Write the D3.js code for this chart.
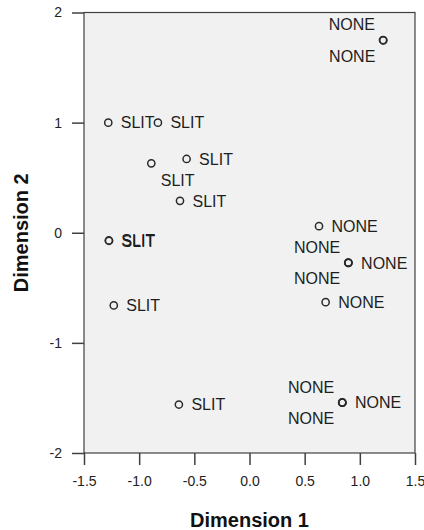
<!DOCTYPE html>
<html>
<head>
<meta charset="utf-8">
<script src="https://cdn.jsdelivr.net/npm/d3@7"></script>
<style>
  html, body { margin: 0; padding: 0; background: #ffffff; }
  svg { display: block; }
</style>
</head>
<body>
<svg id="chart" width="424" height="530"></svg>
<script>
// Object scores on the first two dimensions, with the category of each object.
const dim1 = [1.21, 1.213, -1.28, -0.83, -0.89, -0.57, -0.63, -1.275, -1.273, -1.23, -0.64,
              0.63, 0.895, 0.898, 0.895, 0.69, 0.84, 0.843, 0.84];
const dim2 = [1.75, 1.747, 1.00, 1.00, 0.63, 0.67, 0.29, -0.07, -0.073, -0.66, -1.56,
              0.06, -0.27, -0.273, -0.273, -0.63, -1.54, -1.543, -1.543];
const names = ["NONE", "NONE", "SLIT", "SLIT", "SLIT", "SLIT", "SLIT", "SLIT", "SLIT", "SLIT", "SLIT",
               "NONE", "NONE", "NONE", "NONE", "NONE", "NONE", "NONE", "NONE"];
// Where each point's label sits around its marker.
const labelSide = ["ul", "ll", "r", "r", "lr", "r", "r", "r", "r", "r", "r",
                   "r", "ul", "r", "ll", "r", "ul", "r", "ll"];

const xTicks = [-1.5, -1.0, -0.5, 0.0, 0.5, 1.0, 1.5];
const yTicks = [-2, -1, 0, 1, 2];
const xTitle = "Dimension 1";
const yTitle = "Dimension 2";

const svg = d3.select("#chart");
const plotLeft = 84, plotRight = 415, plotTop = 12.5, plotBottom = 453;

const x = d3.scaleLinear().domain([-1.5, 1.5]).range([plotLeft, plotRight]);
const y = d3.scaleLinear().domain([-2, 2]).range([plotBottom, plotTop]);

// Plain hyphen for negative tick values
const locale = d3.formatLocale({ decimal: ".", thousands: ",", grouping: [3], currency: ["", ""], minus: "-" });

const font = "'Liberation Sans', Arial, sans-serif";
const axisColor = "#404040";

// Plot area
svg.append("rect")
  .attr("x", plotLeft).attr("y", plotTop)
  .attr("width", plotRight - plotLeft).attr("height", plotBottom - plotTop)
  .attr("fill", "#f0f1f0");

// Axes
const gx = svg.append("g")
  .attr("transform", `translate(0,${plotBottom})`)
  .call(d3.axisBottom(x).tickValues(xTicks).tickFormat(locale.format(".1f"))
        .tickSize(12).tickPadding(11));
const gy = svg.append("g")
  .attr("transform", `translate(${plotLeft},0)`)
  .call(d3.axisLeft(y).tickValues(yTicks).tickFormat(locale.format("d"))
        .tickSize(12).tickPadding(10));

[gx, gy].forEach(g => {
  g.select(".domain").remove();
  g.selectAll(".tick line").attr("stroke", axisColor).attr("stroke-width", 1.5);
  g.selectAll(".tick text")
    .attr("fill", "#222")
    .style("font-family", font)
    .style("font-size", "14px");
});

// Frame
svg.append("rect")
  .attr("x", plotLeft).attr("y", plotTop)
  .attr("width", plotRight - plotLeft).attr("height", plotBottom - plotTop)
  .attr("fill", "none")
  .attr("stroke", axisColor)
  .attr("stroke-width", 1.2);

// Points
const pts = dim1.map((d, i) => ({ d1: d, d2: dim2[i], name: names[i], side: labelSide[i] }));

svg.append("g").selectAll("circle")
  .data(pts)
  .join("circle")
  .attr("cx", d => x(d.d1))
  .attr("cy", d => y(d.d2))
  .attr("r", 3.6)
  .attr("fill", "none")
  .attr("stroke", "#2a2a2a")
  .attr("stroke-width", 1.5);

// Point labels
const place = {
  r:  { dx: 12.5, dy: 0,     anchor: "start" },
  lr: { dx: 9.5,  dy: 16.5,  anchor: "start" },
  ul: { dx: -8,   dy: -15.5, anchor: "end" },
  ll: { dx: -8,   dy: 15.5,  anchor: "end" }
};

svg.append("g").selectAll("text")
  .data(pts)
  .join("text")
  .attr("x", d => x(d.d1) + place[d.side].dx)
  .attr("y", d => y(d.d2) + place[d.side].dy)
  .attr("dy", "0.36em")
  .attr("text-anchor", d => place[d.side].anchor)
  .attr("fill", "#1e1e1e")
  .style("font-family", font)
  .style("font-size", "16px")
  .text(d => d.name);

// Axis titles
svg.append("text")
  .attr("x", (plotLeft + plotRight) / 2)
  .attr("y", 526.5)
  .attr("text-anchor", "middle")
  .attr("fill", "#111")
  .style("font-family", font)
  .style("font-size", "20px")
  .style("font-weight", "bold")
  .text(xTitle);

svg.append("text")
  .attr("transform", `translate(27.5,${(plotTop + plotBottom) / 2}) rotate(-90)`)
  .attr("text-anchor", "middle")
  .attr("fill", "#111")
  .style("font-family", font)
  .style("font-size", "20px")
  .style("font-weight", "bold")
  .text(yTitle);
</script>
</body>
</html>
